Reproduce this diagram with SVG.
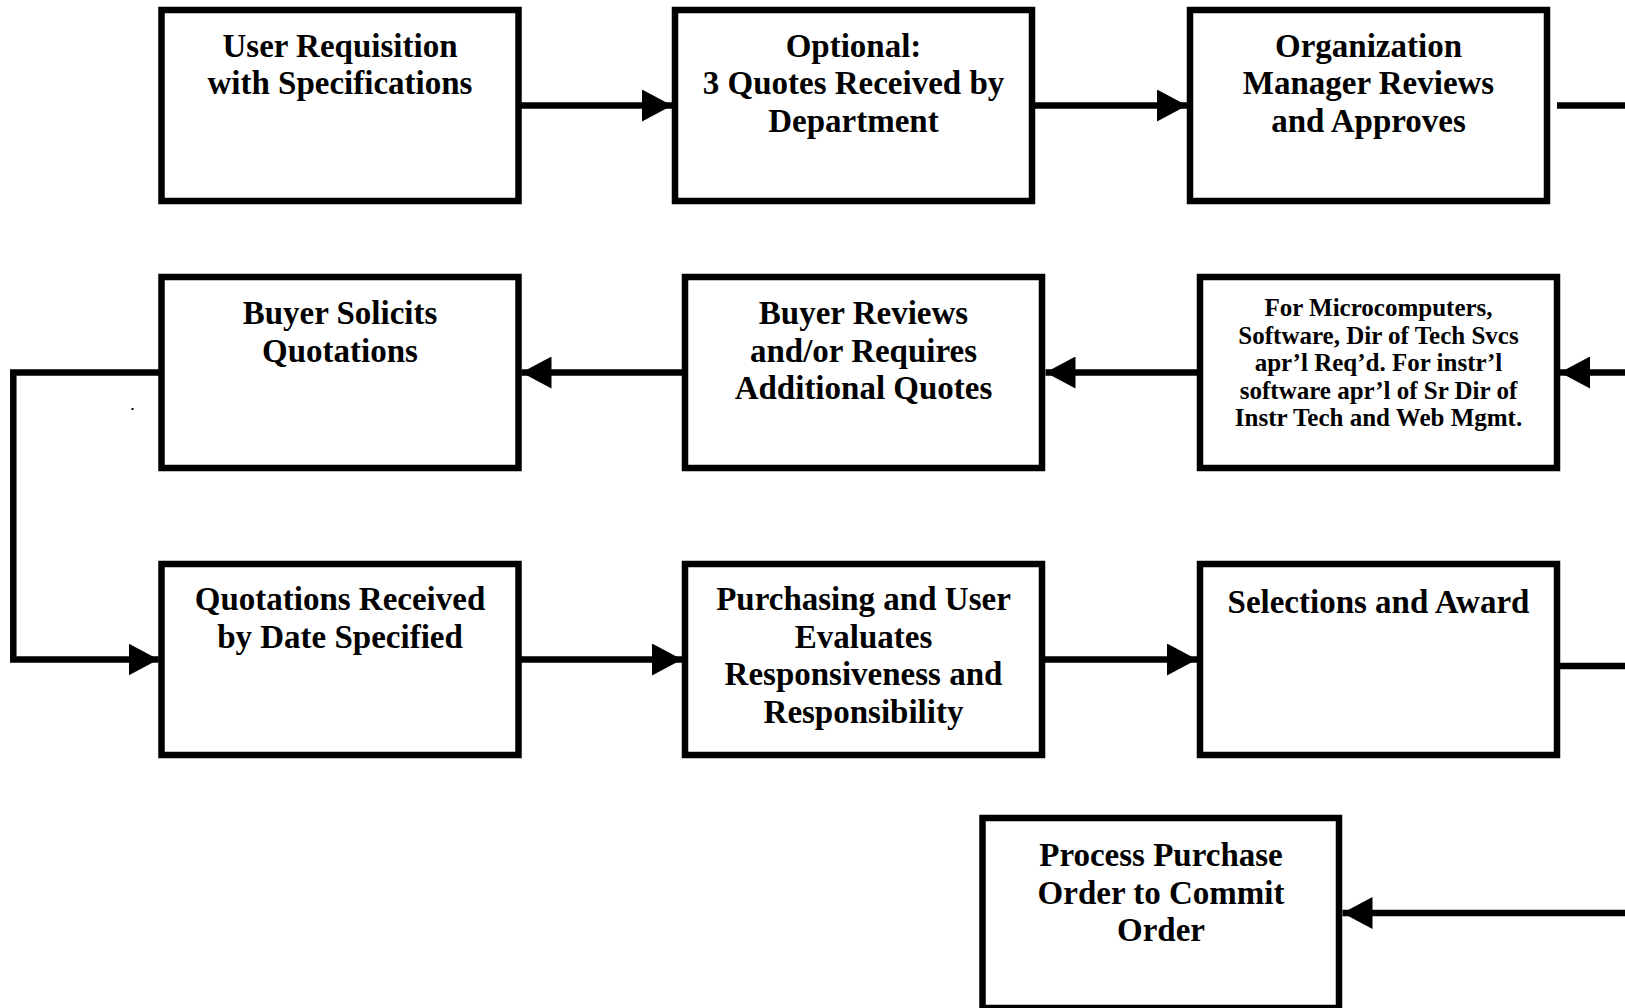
<svg xmlns="http://www.w3.org/2000/svg" width="1625" height="1008" viewBox="0 0 1625 1008">
<style>
.box{fill:#fff;stroke:#000;stroke-width:6.5}
.t{font-family:"Liberation Serif","Times New Roman",serif;font-weight:bold;font-size:33px;fill:#000;text-anchor:middle}
.s{font-size:25px}
.c{fill:none;stroke:#000;stroke-width:6.5}
</style>
<defs>
<marker id="ah" markerUnits="userSpaceOnUse" viewBox="0 0 30 32" refX="30" refY="16" markerWidth="30" markerHeight="32" orient="auto">
<path d="M0,0 L30,16 L0,32 z" fill="#000"/>
</marker>
</defs>
<rect width="1625" height="1008" fill="#fff"/>
<g id="connectors">
<path class="c" d="M518 105.5 H672" marker-end="url(#ah)"/>
<path class="c" d="M1032 105.5 H1187" marker-end="url(#ah)"/>
<path class="c" d="M1557 105.5 H1625"/>
<path class="c" d="M1625 372.5 H1560" marker-end="url(#ah)"/>
<path class="c" d="M1200 372.5 H1045.5" marker-end="url(#ah)"/>
<path class="c" d="M685 372.5 H521.5" marker-end="url(#ah)"/>
<path class="c" d="M161.5 372.5 H13.3 V659.5 H158.5" marker-end="url(#ah)"/>
<path class="c" d="M518.5 659.5 H682" marker-end="url(#ah)"/>
<path class="c" d="M1042 659.5 H1197" marker-end="url(#ah)"/>
<path class="c" d="M1557 666 H1625"/>
<path class="c" d="M1625 913 H1342.5" marker-end="url(#ah)"/>
</g>
<g id="n1"><rect class="box" x="161.5" y="10" width="357" height="191"/>
<text class="t" x="340" y="56.5">User Requisition</text>
<text class="t" x="340" y="94">with Specifications</text></g>
<g id="n2"><rect class="box" x="675" y="10" width="357" height="191"/>
<text class="t" x="853.5" y="56.5">Optional:</text>
<text class="t" x="853.5" y="94">3 Quotes Received by</text>
<text class="t" x="853.5" y="131.5">Department</text></g>
<g id="n3"><rect class="box" x="1190" y="10" width="357" height="191"/>
<text class="t" x="1368.5" y="56.5">Organization</text>
<text class="t" x="1368.5" y="94">Manager Reviews</text>
<text class="t" x="1368.5" y="131.5">and Approves</text></g>
<g id="n4"><rect class="box" x="161.5" y="277" width="357" height="191"/>
<text class="t" x="340" y="324">Buyer Solicits</text>
<text class="t" x="340" y="361.5">Quotations</text></g>
<g id="n5"><rect class="box" x="685" y="277" width="357" height="191"/>
<text class="t" x="863.5" y="324">Buyer Reviews</text>
<text class="t" x="863.5" y="361.5">and/or Requires</text>
<text class="t" x="863.5" y="399">Additional Quotes</text></g>
<g id="n6"><rect class="box" x="1200" y="277" width="357" height="191"/>
<text class="t s" x="1378.5" y="316">For Microcomputers,</text>
<text class="t s" x="1378.5" y="343.5">Software, Dir of Tech Svcs</text>
<text class="t s" x="1378.5" y="371">apr’l Req’d. For instr’l</text>
<text class="t s" x="1378.5" y="398.5">software apr’l of Sr Dir of</text>
<text class="t s" x="1378.5" y="426">Instr Tech and Web Mgmt.</text></g>
<g id="n7"><rect class="box" x="161.5" y="564" width="357" height="191"/>
<text class="t" x="340" y="610">Quotations Received</text>
<text class="t" x="340" y="648">by Date Specified</text></g>
<g id="n8"><rect class="box" x="685" y="564" width="357" height="191"/>
<text class="t" x="863.5" y="610">Purchasing and User</text>
<text class="t" x="863.5" y="647.5">Evaluates</text>
<text class="t" x="863.5" y="685">Responsiveness and</text>
<text class="t" x="863.5" y="722.5">Responsibility</text></g>
<g id="n9"><rect class="box" x="1200" y="564" width="357" height="191"/>
<text class="t" x="1378.5" y="613">Selections and Award</text></g>
<g id="n10"><rect class="box" x="982.5" y="818" width="356.5" height="190"/>
<text class="t" x="1161" y="866">Process Purchase</text>
<text class="t" x="1161" y="903.5">Order to Commit</text>
<text class="t" x="1161" y="941">Order</text></g>
<rect x="131.5" y="408" width="2" height="2" fill="#000"/>
</svg>
